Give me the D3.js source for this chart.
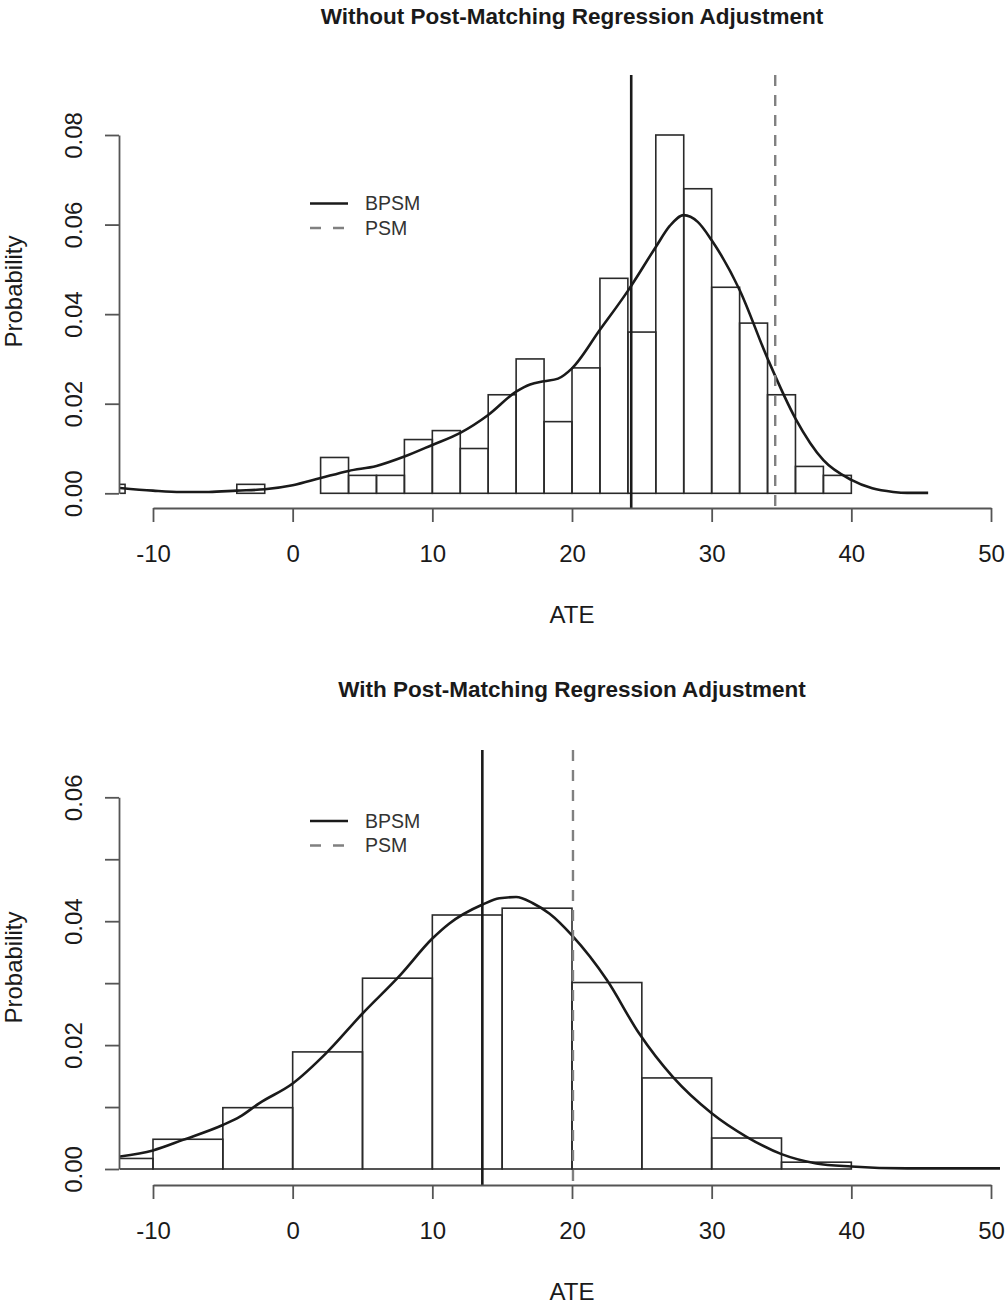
<!DOCTYPE html>
<html>
<head>
<meta charset="utf-8">
<script src="https://cdn.jsdelivr.net/npm/d3@7"></script>
<style>
  html, body { margin: 0; padding: 0; background: #fff; }
  svg { display: block; }
</style>
</head>
<body>
<div id="chart"></div>
<script>
// ---- data ----

const xTicks = [-10, 0, 10, 20, 30, 40, 50];
const legendLabels = ['BPSM', 'PSM'];

// Top panel: without post-matching regression adjustment
const topTitle = 'Without Post-Matching Regression Adjustment';
const topBreaks = [-14, -12, -10, -8, -6, -4, -2, 0, 2, 4, 6, 8, 10, 12, 14,
  16, 18, 20, 22, 24, 26, 28, 30, 32, 34, 36, 38, 40];
const topDensity = [0.002, 0, 0, 0, 0, 0.002, 0, 0, 0.008, 0.004, 0.004, 0.012,
  0.014, 0.010, 0.022, 0.030, 0.016, 0.028, 0.048, 0.036, 0.080, 0.068, 0.046,
  0.038, 0.022, 0.006, 0.004];
const topCurveX = [-12.4, -10, -8, -6, -4, -2, 0, 2, 4, 6, 8, 10, 12, 14, 16,
  17, 18, 19, 20, 22, 24, 26, 27, 28, 29, 30, 32, 34, 36, 38, 40, 41.5, 43, 44, 45.5];
const topCurveY = [0.0012, 0.0006, 0.0003, 0.0003, 0.0006, 0.0009, 0.0018,
  0.0034, 0.0050, 0.0061, 0.0082, 0.0108, 0.0135, 0.0175, 0.0227, 0.0243,
  0.0250, 0.0256, 0.0279, 0.0365, 0.0452, 0.0550, 0.0597, 0.0621, 0.0606,
  0.0565, 0.0454, 0.0301, 0.0167, 0.0074, 0.0030, 0.0011, 0.0003, 0.0001, 0.0001];
const topBPSM = 24.24;
const topPSM = 34.55;
const topYTicks = [0, 0.02, 0.04, 0.06, 0.08];
const topYLabels = ['0.00', '0.02', '0.04', '0.06', '0.08'];

// Bottom panel: with post-matching regression adjustment
const bottomTitle = 'With Post-Matching Regression Adjustment';
const bottomBreaks = [-15, -10, -5, 0, 5, 10, 15, 20, 25, 30, 35, 40];
const bottomDensity = [0.0017, 0.0048, 0.0099, 0.0189, 0.0308, 0.0410, 0.0421,
  0.0301, 0.0147, 0.0050, 0.0011];
const bottomCurveX = [-12.4, -10, -7.85, -5, -3.8, -2.4, 0, 2.4, 5, 7.7, 10,
  11.2, 13.6, 14.8, 16, 17.2, 18.4, 20, 22.5, 24.8, 27.2, 30, 32.5, 35, 37.5,
  40, 44, 50.7];
const bottomCurveY = [0.0020, 0.0030, 0.0047, 0.0071, 0.0084, 0.0106, 0.0138,
  0.0187, 0.0251, 0.0313, 0.0372, 0.0396, 0.0427, 0.0437, 0.0439, 0.0429,
  0.0412, 0.0377, 0.0305, 0.0219, 0.0149, 0.0090, 0.0052, 0.0024, 0.0009,
  0.0004, 0.0001, 0.0001];
const bottomBPSM = 13.58;
const bottomPSM = 20.07;
const bottomYTicks = [0, 0.01, 0.02, 0.03, 0.04, 0.05, 0.06];
const bottomYLabels = ['0.00', '', '0.02', '', '0.04', '', '0.06'];

// ---- styling ----
const FONT = "'Liberation Sans', Arial, Helvetica, sans-serif";
const INK = '#1a1a1a';
const AXIS = '#555';
const DASH = '#808080';

const W = 1007, H = 1304;
const PLOT_LEFT = 120, PLOT_RIGHT = 1000;

const svg = d3.select('#chart').append('svg')
  .attr('width', W)
  .attr('height', H);

// shared x scale, both panels use the same ticks
const x = d3.scaleLinear().domain([-10, 50]).range([153, 991]);

function drawPanel(p, idx) {
  const y = d3.scaleLinear().domain([0, p.yMax]).range([p.base, p.yTopPx]);

  // title
  svg.append('text')
    .attr('x', 572)
    .attr('y', p.titleY)
    .attr('text-anchor', 'middle')
    .style('font-family', FONT)
    .style('font-weight', 'bold')
    .style('font-size', '22.5px')
    .style('fill', INK)
    .text(p.title);

  // clip to plot region, as R does
  const clipId = 'clip' + idx;
  svg.append('clipPath').attr('id', clipId)
    .append('rect')
    .attr('x', PLOT_LEFT)
    .attr('y', p.top)
    .attr('width', PLOT_RIGHT - PLOT_LEFT)
    .attr('height', p.bottom - p.top);

  const g = svg.append('g').attr('clip-path', `url(#${clipId})`);

  const bins = p.density.map((d, i) => ({ x0: p.breaks[i], x1: p.breaks[i + 1], d }));

  // histogram
  g.selectAll('.bar')
    .data(bins)
    .join('rect')
    .attr('class', 'bar')
    .attr('x', d => x(d.x0))
    .attr('y', d => y(d.d))
    .attr('width', d => x(d.x1) - x(d.x0))
    .attr('height', d => y(0) - y(d.d))
    .attr('fill', 'none')
    .attr('stroke', '#2a2a2a')
    .attr('stroke-width', 1.6);

  // density curve
  const line = d3.line()
    .x(d => x(d[0]))
    .y(d => y(d[1]))
    .curve(d3.curveMonotoneX);

  g.append('path')
    .datum(d3.zip(p.curveX, p.curveY))
    .attr('fill', 'none')
    .attr('stroke', INK)
    .attr('stroke-width', 2.6)
    .attr('d', line);

  // reference lines
  g.append('line')
    .attr('x1', x(p.bpsm)).attr('x2', x(p.bpsm))
    .attr('y1', p.top).attr('y2', p.bottom)
    .attr('stroke', INK)
    .attr('stroke-width', 2.6);

  g.append('line')
    .attr('x1', x(p.psm)).attr('x2', x(p.psm))
    .attr('y1', p.top).attr('y2', p.bottom)
    .attr('stroke', DASH)
    .attr('stroke-width', 2.4)
    .attr('stroke-dasharray', '11,9');

  // x axis (plain hyphen for negatives, like R)
  const xAxis = svg.append('g')
    .attr('transform', `translate(0,${p.bottom})`)
    .call(d3.axisBottom(x).tickValues(xTicks).tickSize(14).tickSizeOuter(0)
      .tickFormat(d => String(d)));
  xAxis.selectAll('text')
    .attr('y', 53.6)
    .attr('dy', null)
    .style('font-family', FONT)
    .style('font-size', '24px')
    .style('fill', INK);

  // y axis, labels rotated like R's default las=0
  const yAxis = svg.append('g')
    .attr('transform', `translate(${PLOT_LEFT - 1},0)`)
    .call(d3.axisLeft(y).tickValues(p.yTicks).tickSize(14).tickSizeOuter(0)
      .tickFormat((d, i) => p.yLabels[i]));
  yAxis.selectAll('text')
    .attr('transform', 'rotate(-90)')
    .attr('x', 0)
    .attr('y', -37)
    .attr('dy', null)
    .attr('text-anchor', 'middle')
    .style('font-family', FONT)
    .style('font-size', '24px')
    .style('fill', INK);

  [xAxis, yAxis].forEach(a => {
    a.select('.domain').attr('stroke', AXIS).attr('stroke-width', 1.8);
    a.selectAll('.tick line').attr('stroke', AXIS).attr('stroke-width', 1.8);
  });

  // axis titles
  svg.append('text')
    .attr('x', 572)
    .attr('y', p.bottom + 114.6)
    .attr('text-anchor', 'middle')
    .style('font-family', FONT)
    .style('font-size', '24px')
    .style('fill', INK)
    .text('ATE');

  svg.append('text')
    .attr('transform', `translate(22,${(p.top + p.bottom) / 2}) rotate(-90)`)
    .attr('text-anchor', 'middle')
    .style('font-family', FONT)
    .style('font-size', '24px')
    .style('fill', INK)
    .text('Probability');

  // legend
  const legend = svg.append('g');
  const styles = [
    { stroke: INK, dash: null },
    { stroke: DASH, dash: '11,12' }
  ];
  legendLabels.forEach((lab, i) => {
    const ly = p.legendY + i * 24.5;
    legend.append('line')
      .attr('x1', 310).attr('x2', 348)
      .attr('y1', ly).attr('y2', ly)
      .attr('stroke', styles[i].stroke)
      .attr('stroke-width', 2.6)
      .attr('stroke-dasharray', styles[i].dash);
    legend.append('text')
      .attr('x', 365)
      .attr('y', ly)
      .attr('dy', '0.35em')
      .style('font-family', FONT)
      .style('font-size', '19.5px')
      .style('fill', '#333')
      .text(lab);
  });
}

drawPanel({
  title: topTitle, breaks: topBreaks, density: topDensity,
  curveX: topCurveX, curveY: topCurveY, bpsm: topBPSM, psm: topPSM,
  yTicks: topYTicks, yLabels: topYLabels, yMax: 0.08,
  top: 75, bottom: 508, base: 493.3, yTopPx: 135, titleY: 24, legendY: 203.5
}, 0);

drawPanel({
  title: bottomTitle, breaks: bottomBreaks, density: bottomDensity,
  curveX: bottomCurveX, curveY: bottomCurveY, bpsm: bottomBPSM, psm: bottomPSM,
  yTicks: bottomYTicks, yLabels: bottomYLabels, yMax: 0.06,
  top: 750, bottom: 1185, base: 1169, yTopPx: 797.3, titleY: 697, legendY: 821
}, 1);
</script>
</body>
</html>
